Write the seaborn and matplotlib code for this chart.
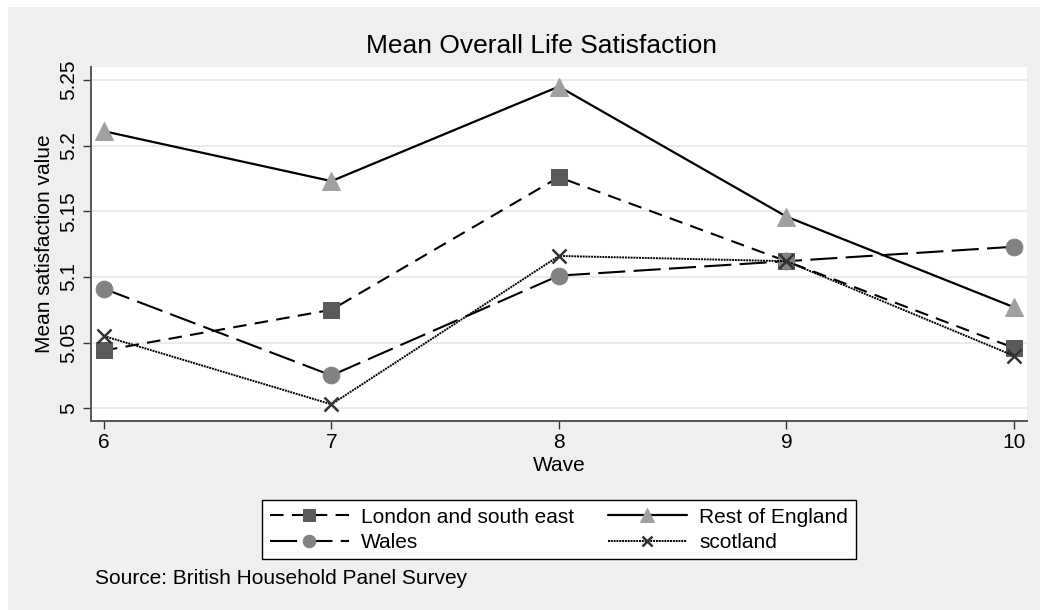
import matplotlib
matplotlib.use("Agg")
import matplotlib.pyplot as plt
import matplotlib.patches as mpatches
import numpy as np
import pandas as pd
import seaborn as sns

# ---- data --------------------------------------------------------------------
waves = [6, 7, 8, 9, 10]
london = [5.044, 5.075, 5.176, 5.112, 5.046]
rest_england = [5.211, 5.173, 5.245, 5.146, 5.077]
wales = [5.091, 5.025, 5.101, 5.112, 5.123]
scotland = [5.055, 5.003, 5.116, 5.112, 5.040]
regions = ["London and south east", "Rest of England", "Wales", "scotland"]
yticks = [5.0, 5.05, 5.1, 5.15, 5.2, 5.25]
ytick_labels = ["5", "5.05", "5.1", "5.15", "5.2", "5.25"]

df = pd.DataFrame({
    "wave": waves * 4,
    "value": london + rest_england + wales + scotland,
    "region": np.repeat(regions, len(waves)),
})

sns.set_theme(style="white")
plt.rcParams["font.family"] = ["Liberation Sans", "DejaVu Sans"]
plt.rcParams["text.color"] = "black"
plt.rcParams["axes.labelcolor"] = "black"

W, H = 1040, 610
fig = plt.figure(figsize=(W / 100, H / 100), dpi=100, facecolor="white")
# light grey graph region with a thin white margin top/left
fig.patches.append(mpatches.Rectangle((8 / W, 0), 1 - 8 / W, 1 - 7 / H,
                                      transform=fig.transFigure,
                                      facecolor="#efefef", edgecolor="none",
                                      zorder=-10))

ax = fig.add_axes([91 / W, 1 - 421 / H, (1027 - 91) / W, (421 - 67) / H])
ax.set_facecolor("white")

styles = {
    "London and south east": dict(linestyle=(0, (6.5, 4)), marker="s", markersize=12,
                                  markerfacecolor="#5a5a5a", markeredgecolor="#5a5a5a"),
    "Rest of England": dict(linestyle="-", marker="^", markersize=13,
                            markerfacecolor="#a0a0a0", markeredgecolor="#a0a0a0"),
    "Wales": dict(linestyle=(0, (13, 4)), marker="o", markersize=12,
                  markerfacecolor="#828282", markeredgecolor="#828282"),
    "scotland": dict(linestyle=(0, (1.0, 0.45)), marker="x", markersize=10,
                     markeredgewidth=1.8, markeredgecolor="#333333"),
}
widths = {"London and south east": 1.5, "Rest of England": 1.6,
          "Wales": 1.5, "scotland": 1.4}

for reg in regions:
    sub = df[df["region"] == reg]
    sns.lineplot(data=sub, x="wave", y="value", ax=ax, color="black",
                 linewidth=widths[reg], errorbar=None, label=reg,
                 **styles[reg])

ax.set_xlim(5.943, 10.058)
ax.set_ylim(4.9903, 5.2599)
ax.set_xticks(waves)
ax.set_xticklabels([str(w) for w in waves], fontsize=15)
ax.set_yticks(yticks)
ax.set_yticklabels(ytick_labels, fontsize=15, rotation=90, va="center")
ax.grid(axis="y", color="#e6e6e6", linewidth=1.2)
ax.grid(axis="x", visible=False)
for side in ["top", "right"]:
    ax.spines[side].set_visible(False)
for side in ["left", "bottom"]:
    ax.spines[side].set_color("#555555")
    ax.spines[side].set_linewidth(1.4)
ax.tick_params(axis="both", which="major", length=6, width=1.0, color="#333333",
               direction="out", left=True, bottom=True, labelcolor="black", pad=3)

ax.set_xlabel("Wave", fontsize=15, labelpad=0)
ax.xaxis.set_label_coords(0.5, (421 - 456) / (421 - 67))
ax.set_ylabel("Mean satisfaction value", fontsize=15)
ax.yaxis.set_label_coords((54 - 91) / (1027 - 91), 0.5)

fig.text(542 / W, 1 - 46 / H, "Mean Overall Life Satisfaction", fontsize=19,
         ha="center", va="center")
fig.text(95 / W, 1 - 578 / H, "Source: British Household Panel Survey",
         fontsize=15, ha="left", va="center")

handles, labels = ax.get_legend_handles_labels()
ax.get_legend().remove()
order = [0, 2, 1, 3]
leg = fig.legend([handles[i] for i in order], [labels[i] for i in order],
                 loc="upper center", bbox_to_anchor=(559 / W, 1 - 490 / H),
                 ncol=2, fontsize=15, frameon=True, fancybox=False,
                 handlelength=3.8, handletextpad=0.6, columnspacing=1.6,
                 labelspacing=0.3, borderpad=0.35, markerscale=0.75)
leg.get_frame().set_edgecolor("black")
leg.get_frame().set_linewidth(1.0)
leg.get_frame().set_facecolor("white")
leg.get_frame().set_alpha(1.0)

fig.savefig("out.png", dpi=100, facecolor=fig.get_facecolor())
